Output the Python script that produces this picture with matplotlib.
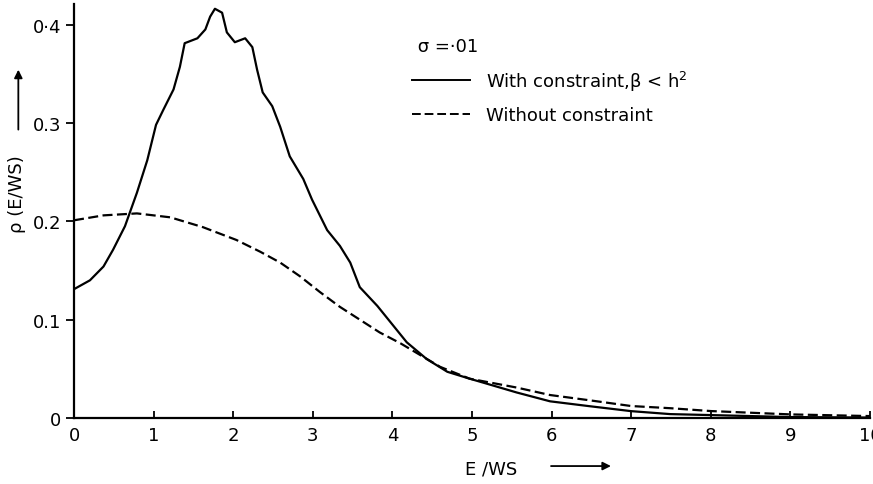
import matplotlib
matplotlib.use("Agg")
import matplotlib.pyplot as plt
from matplotlib.lines import Line2D

plt.rcParams['font.family'] = ['DejaVu Sans']
plt.rcParams['mathtext.default'] = 'regular'

# solid curve: with constraint, beta < h^2
e_con = [0.0, 0.20, 0.37, 0.49, 0.64, 0.79, 0.92, 1.03, 1.12, 1.25, 1.33, 1.39,
         1.55, 1.65, 1.71, 1.77, 1.86, 1.92, 2.02, 2.15, 2.24, 2.30, 2.37, 2.49,
         2.59, 2.71, 2.88, 2.99, 3.18, 3.34, 3.47, 3.59, 3.81, 3.97, 4.18, 4.43,
         4.69, 4.97, 5.14, 5.56, 5.98, 6.48, 7.0, 7.49, 8.0, 9.0, 10.0]
rho_con = [0.131, 0.140, 0.154, 0.171, 0.195, 0.229, 0.262, 0.298, 0.313, 0.334,
           0.357, 0.381, 0.386, 0.395, 0.408, 0.416, 0.412, 0.392, 0.382, 0.386,
           0.377, 0.354, 0.331, 0.317, 0.296, 0.266, 0.243, 0.222, 0.191, 0.175,
           0.158, 0.133, 0.114, 0.098, 0.077, 0.060, 0.047, 0.040, 0.036, 0.026,
           0.017, 0.012, 0.007, 0.004, 0.003, 0.001, 0.0005]

# dashed curve: without constraint
e_free = [0.0, 0.37, 0.79, 1.21, 1.62, 2.04, 2.34, 2.59, 2.84, 3.09, 3.34, 3.59,
          3.84, 4.10, 4.35, 4.60, 4.97, 5.56, 5.98, 6.48, 7.0, 7.49, 8.0, 9.0, 10.0]
rho_free = [0.201, 0.206, 0.208, 0.204, 0.194, 0.181, 0.169, 0.158, 0.144, 0.128,
            0.113, 0.100, 0.087, 0.076, 0.064, 0.052, 0.040, 0.031, 0.0234, 0.018,
            0.0122, 0.010, 0.0071, 0.0037, 0.002]

xticks = list(range(11))
yticks = [0, 0.1, 0.2, 0.3, 0.4]
ylabels = ['0', '0.1', '0.2', '0.3', '0·4']

fig = plt.figure(figsize=(8.73, 4.85), dpi=100)
ax = fig.add_axes([0.0848, 0.136, 0.9118, 0.854])

ax.plot(e_con, rho_con, color='black', lw=1.6)
ax.plot(e_free, rho_free, color='black', lw=1.6, dashes=(4.5, 2))

ax.set_xlim(0, 10)
ax.set_ylim(0, 0.421)
ax.set_xticks(xticks)
ax.set_xticklabels([str(t) for t in xticks])
ax.set_yticks(yticks)
ax.set_yticklabels(ylabels)
ax.tick_params(axis='x', direction='in', length=5, width=1.3, labelsize=13, pad=6)
ax.tick_params(axis='y', direction='out', length=6, width=1.3, labelsize=13, pad=3)
for s in ['top', 'right']:
    ax.spines[s].set_visible(False)
for s in ['left', 'bottom']:
    ax.spines[s].set_linewidth(1.6)

handles = [Line2D([], [], color='black', lw=1.4),
           Line2D([], [], color='black', lw=1.4, dashes=(4.5, 2))]
leg = ax.legend(handles, ['With constraint,β < h$^{2}$', 'Without constraint'],
                title=' σ =·01', loc='upper left', bbox_to_anchor=(0.416, 0.937),
                frameon=False, fontsize=13, title_fontsize=13, handlelength=3.2,
                handletextpad=0.9, labelspacing=0.75, alignment='left',
                borderaxespad=0)

# axis labels with arrows
fig.text(0.020, 0.60, 'ρ (E/WS)', rotation=90, fontsize=13, ha='center', va='center')
ax.annotate('', xy=(0.021, 0.86), xytext=(0.021, 0.725), xycoords='figure fraction',
            arrowprops=dict(arrowstyle='-|>', color='black', lw=1.3, mutation_scale=12))
fig.text(0.563, 0.031, 'E /WS', fontsize=13, ha='center', va='center')
ax.annotate('', xy=(0.703, 0.037), xytext=(0.628, 0.037), xycoords='figure fraction',
            arrowprops=dict(arrowstyle='-|>', color='black', lw=1.3, mutation_scale=12))

fig.savefig('out.png', dpi=100)
